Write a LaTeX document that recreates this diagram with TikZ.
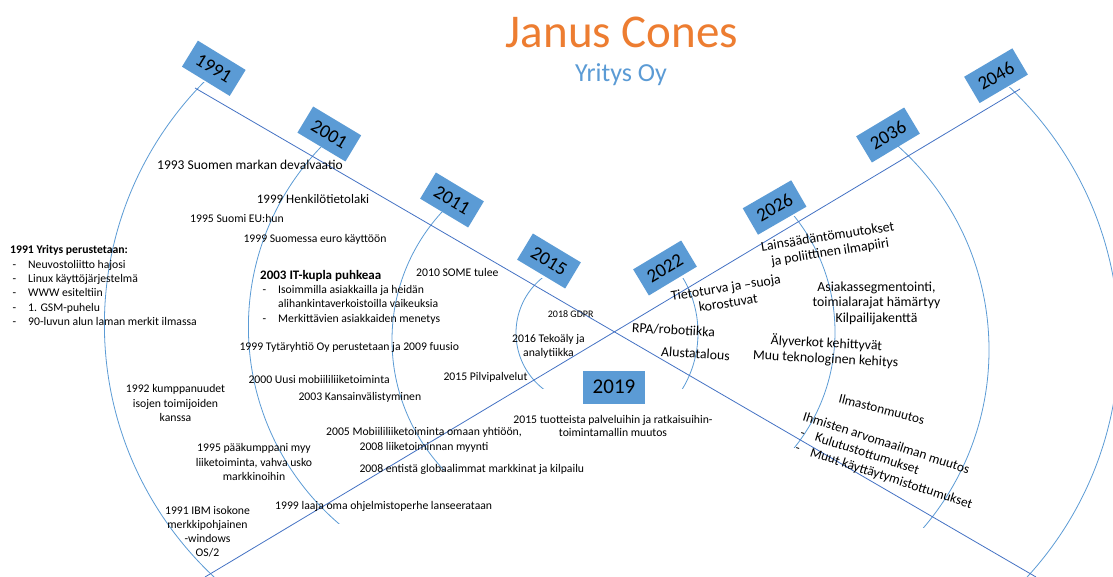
\documentclass[tikz,border=0pt]{standalone}
\usepackage{fontspec}
\setmainfont{Carlito}
\definecolor{boxblue}{HTML}{5B9BD5}
\definecolor{arcblue}{HTML}{5B9BD5}
\definecolor{lineblue}{HTML}{4472C4}
\definecolor{titleorange}{HTML}{ED7D31}
\newcommand{\fsz}[2]{\fontsize{#1}{#2}\selectfont}
\newcommand{\ditem}[1]{\makebox[18pt][l]{\hspace{2.5pt}-}#1}
\newcommand{\conearcL}[5]{\begin{scope}\clip (#1-#3-5,#4) rectangle (#1,#5);\draw[arcline] (#1,#2) circle[radius=#3pt];\end{scope}}
\newcommand{\conearcR}[5]{\begin{scope}\clip (#1,#4) rectangle (#1+#3+5,#5);\draw[arcline] (#1,#2) circle[radius=#3pt];\end{scope}}
\begin{document}
\begin{tikzpicture}[x=1pt,y=-1pt,
  yearbox/.style={fill=boxblue, minimum width=56pt, minimum height=30.5pt, inner sep=0pt, font=\fsz{19}{19}},
  axisline/.style={draw=lineblue, line width=0.8pt},
  arcline/.style={draw=arcblue, line width=0.8pt},
  txt/.style={inner sep=0pt, font=\fsz{11.7}{14.3}, align=center},
  txtl/.style={inner sep=0pt, font=\fsz{11.7}{14.3}, align=left, anchor=west},
  big/.style={inner sep=0pt, font=\fsz{13.8}{15.5}, align=center},
]
\path[use as bounding box, fill=white] (0,0) rectangle (1113,577);

% cone arcs
\conearcL{449.7}{324.6}{345.3}{83}{577}
\conearcL{507.7}{326.9}{259.3}{148}{523}
\conearcL{581}{340}{189}{213}{470}
\conearcL{587}{333}{71}{278}{388}
\conearcR{590}{333}{108}{278}{388}
\conearcR{650}{332}{185}{217}{447}
\conearcR{715}{350}{274}{147}{527}
\conearcR{770}{341}{349}{88}{577}

% axes
\coordinate (A1) at (195,88);
\coordinate (A2) at (1036,577);
\coordinate (B1) at (205,577);
\coordinate (B2) at (1020,89);
\draw[axisline] (A1) -- (A2);
\draw[axisline] (B1) -- (B2);

% title
\node[font=\fsz{47}{47}, text=titleorange, anchor=base, inner sep=0pt] (title) at (622,48) {Janus Cones};
\node[font=\fsz{26}{26}, text=boxblue, anchor=base, inner sep=0pt] (subtitle) at (621,82) {Yritys Oy};

% year boxes
\node[yearbox, rotate=-31.5] (y1991) at (213.8,68.3) {1991};
\node[yearbox, rotate=-31] (y2001) at (329.3,134) {2001};
\node[yearbox, rotate=-31] (y2011) at (452,200) {2011};
\node[yearbox, rotate=-31] (y2015) at (549,261) {2015};
\node[yearbox, rotate=31] (y2022) at (665,268) {2022};
\node[yearbox, rotate=30] (y2026) at (774.6,207.5) {2026};
\node[yearbox, rotate=31] (y2036) at (888,135) {2036};
\node[yearbox, rotate=30.5] (y2046) at (996,75.7) {2046};
\node[yearbox, minimum width=62pt, minimum height=33pt, font=\fsz{21}{21}] (y2019) at (614,387) {2019};

% left texts
\node[txtl] (l1991) at (10,285.5) {\textbf{1991 Yritys perustetaan:}\\
\ditem{Neuvostoliitto hajosi}\\
\ditem{Linux käyttöjärjestelmä}\\
\ditem{WWW esiteltiin}\\
\ditem{1. GSM-puhelu}\\
\ditem{90-luvun alun laman merkit ilmassa}};

\node[txtl, font=\fsz{13.5}{15}] (t1993) at (157,165) {1993 Suomen markan devalvaatio};
\node[txtl, font=\fsz{13}{15}] (t1999h) at (256.7,198.7) {1999 Henkilötietolaki};
\node[txtl] (t1995eu) at (190,218) {1995 Suomi EU:hun};
\node[txtl] (t1999euro) at (243.3,239.3) {1999 Suomessa euro käyttöön};

\node[txtl] (it2003) at (260,297) {{\bfseries\fsz{13}{14.3}2003 IT-kupla puhkeaa}\\
\ditem{Isoimmilla asiakkailla ja heidän}\\
\hspace*{18pt}alihankintaverkoistoilla vaikeuksia\\
\ditem{Merkittävien asiakkaiden menetys}};

\node[txtl] (t2010) at (416,272) {2010 SOME tulee};
\node[txtl] (t1999ty) at (239.3,347) {1999 Tytäryhtiö Oy perustetaan ja 2009 fuusio};
\node[txtl] (t2000) at (248.3,379) {2000 Uusi mobiililiiketoiminta};
\node[txtl] (t2003k) at (298.3,397.5) {2003 Kansainvälistyminen};
\node[txtl] (t2015p) at (443.3,377.5) {2015 Pilvipalvelut};
\node[txt] (t2016) at (548.5,346.5) {2016 Tekoäly ja\\analytiikka};
\node[txtl, font=\fsz{10}{12}] (t2018) at (547.7,313.7) {2018 GDPR};
\node[txt] (t1992) at (175.5,403) {1992 kumppanuudet\\isojen toimijoiden\\kanssa};
\node[txt] (t1995p) at (254,462) {1995 pääkumppani myy\\liiketoiminta, vahva usko\\markkinoihin};
\node[txt] (t1991ibm) at (207.5,531.7) {1991 IBM isokone\\merkkipohjainen\\-windows\\OS/2};
\node[txtl] (t1999l) at (275,506.7) {1999 laaja oma ohjelmistoperhe lanseerataan};
\node[txt] (t2005) at (424,440) {2005 Mobiililiiketoiminta omaan yhtiöön,\\2008 liiketoiminnan myynti};
\node[txtl] (t2008g) at (359.3,469) {2008 entistä globaalimmat markkinat ja kilpailu};
\node[txt, font=\fsz{11.7}{13}] (t2015t) at (613,426) {2015 tuotteista palveluihin ja ratkaisuihin-\\toimintamallin muutos};

% right texts
\node[big, rotate=9] (tieto) at (727,295) {Tietoturva ja –suoja\\korostuvat};
\node[big, rotate=-3] (rpa) at (673.5,330) {RPA/robotiikka};
\node[big, rotate=-3.5] (alusta) at (695.5,353.5) {Alustatalous};
\node[big, rotate=9] (lain) at (829,245) {Lainsäädäntömuutokset\\ja poliittinen ilmapiiri};
\node[big] (asiakas) at (876.5,303) {Asiakassegmentointi,\\toimialarajat hämärtyy\\Kilpailijakenttä};
\node[big, rotate=-3] (aly) at (826,351) {Älyverkot kehittyvät\\Muu teknologinen kehitys};
\node[big, font=\fsz{13.3}{16}, rotate=-14.5] (ilmasto) at (881.7,409) {Ilmastonmuutos};
\node[big, font=\fsz{13.5}{16}, align=left, anchor=north west, rotate=-18] (ihmiset) at (805,411) {Ihmisten arvomaailman muutos\\
\ditem{Kulutustottumukset}\\
\ditem{Muut käyttäytymistottumukset}};
\end{tikzpicture}
\end{document}
